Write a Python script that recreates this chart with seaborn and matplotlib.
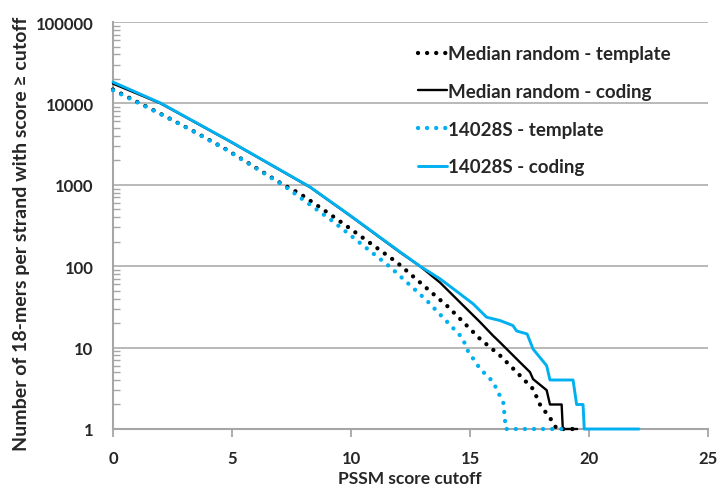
import numpy as np
import pandas as pd
import matplotlib
matplotlib.use("Agg")
import matplotlib.pyplot as plt
from matplotlib.ticker import FixedLocator, FixedFormatter, LogLocator, NullFormatter
import seaborn as sns

# ---- data ----
rand_tmpl_x = [0, 1.83, 3.3, 4.73, 7.16, 7.86, 9.19, 9.87, 11.92, 14.08, 15.42, 16.26, 16.96, 17.65, 17.94, 18.5, 18.64, 19.5]
rand_tmpl_y = [14800, 7900, 4700, 2750, 1000, 776, 420, 303, 112, 31.7, 12.8, 8, 5, 3.1, 2, 1.2, 1, 1]

rand_cod_x = [0, 2, 4.92, 8.28, 9.96, 12.06, 12.9, 13.74, 14.58, 15.42, 15.97, 16.26, 17.1, 17.52, 17.65, 18.22, 18.36, 18.85, 18.9, 19.5]
rand_cod_y = [17500, 10000, 3400, 935, 418, 148, 100, 63, 36, 20.6, 14, 11.6, 6.6, 5, 4.1, 3, 2, 2, 1, 1]

s_tmpl_x = [0, 1.83, 3.3, 4.73, 7.16, 9.19, 9.9, 11.64, 13.18, 14.7, 14.86, 15.42, 15.97, 16.4, 16.47, 16.5, 18.9]
s_tmpl_y = [14500, 7860, 4680, 2730, 985, 365, 250, 98, 38, 13, 9.6, 5.5, 3.8, 2.1, 1.3, 1, 1]

s_cod_x = [0, 2, 4.92, 8.28, 9.96, 12.06, 12.9, 13.74, 14.58, 15.13, 15.7, 16.26, 16.8, 16.96, 17.4, 17.65, 18.22, 18.36, 19.33, 19.48, 19.75, 19.8, 22.1]
s_cod_y = [18300, 10100, 3420, 940, 421, 150, 100, 70, 45.7, 34.5, 23.6, 21.5, 18.7, 16, 14.7, 9.6, 6, 4, 4, 2, 2, 1, 1]

labels = ["Median random - template", "Median random - coding", "14028S - template", "14028S - coding"]
x_ticks = [0, 5, 10, 15, 20, 25]
y_ticks = [1, 10, 100, 1000, 10000, 100000]
y_tick_labels = ["1", "10", "100", "1000", "10000", "100000"]

CYAN = "#00B0F0"
GRAY = "#A6A6A6"

sns.set_style("white")
plt.rcParams["font.family"] = ["Lato", "DejaVu Sans"]
plt.rcParams["font.weight"] = "bold"

fig = plt.figure(figsize=(7.19, 4.89), dpi=100)
ax = fig.add_axes([113 / 719, 59 / 489, (708 - 113) / 719, (466 - 59) / 489])

dot_style = dict(linestyle=(0, (0.01, 2.1)), dash_capstyle="round", linewidth=3.1)
series = [
    (rand_tmpl_x, rand_tmpl_y, "black", dot_style),
    (rand_cod_x, rand_cod_y, "black", dict(linestyle="-", linewidth=1.7)),
    (s_tmpl_x, s_tmpl_y, CYAN, dot_style),
    (s_cod_x, s_cod_y, CYAN, dict(linestyle="-", linewidth=2.1)),
]
for (xs, ys, col, st), lab in zip(series, labels):
    df = pd.DataFrame({"x": xs, "y": ys})
    sns.lineplot(data=df, x="x", y="y", ax=ax, color=col, label=lab,
                 estimator=None, sort=False, clip_on=False, zorder=3, **st)

ax.set_yscale("log")
ax.set_xlim(0, 25)
ax.set_ylim(1, 100000)
ax.xaxis.set_major_locator(FixedLocator(x_ticks))
ax.yaxis.set_major_locator(FixedLocator(y_ticks))
ax.yaxis.set_major_formatter(FixedFormatter(y_tick_labels))
ax.yaxis.set_minor_locator(LogLocator(base=10, subs=np.arange(2, 10)))
ax.yaxis.set_minor_formatter(NullFormatter())

ax.grid(False)
ax.yaxis.grid(True, which="major", color=GRAY, linewidth=1.1)
ax.set_axisbelow(True)

for s in ["top", "right"]:
    ax.spines[s].set_visible(False)
for s in ["left", "bottom"]:
    ax.spines[s].set_color(GRAY)
    ax.spines[s].set_linewidth(1.5)

ax.tick_params(axis="y", which="major", direction="out", length=6, width=1.3, color=GRAY,
               labelsize=12, pad=8)
ax.tick_params(axis="y", which="minor", direction="in", length=5, width=1.0, color=GRAY, left=True)
ax.tick_params(axis="x", which="major", direction="out", length=6, width=1.3, color=GRAY,
               labelsize=12, pad=9, bottom=True)
for t in ax.get_xticklabels() + ax.get_yticklabels():
    t.set_fontweight("bold")

ax.set_xlabel("PSSM score cutoff", fontsize=12.5, fontweight="bold")
ax.xaxis.set_label_coords(410 / 595 - 113 / 595 + 0.0, -(479 - 430) / 407, transform=ax.transAxes)
ax.xaxis.label.set_va("center")
ax.set_ylabel("Number of 18-mers per strand with score \u2265 cutoff", fontsize=14,
              fontweight="bold")
ax.yaxis.set_label_coords((22 - 113) / 595, (430 - 234) / 407, transform=ax.transAxes)
ax.yaxis.label.set_va("center")

leg = ax.legend(loc="upper left", bbox_to_anchor=(409 / 719, 1 - 37 / 489),
                bbox_transform=fig.transFigure, frameon=False, fontsize=13.5,
                handlelength=1.5, handletextpad=0.1, labelspacing=1.1, borderpad=0)
for t in leg.get_texts():
    t.set_fontweight("bold")

fig.savefig("out.png", dpi=100)
